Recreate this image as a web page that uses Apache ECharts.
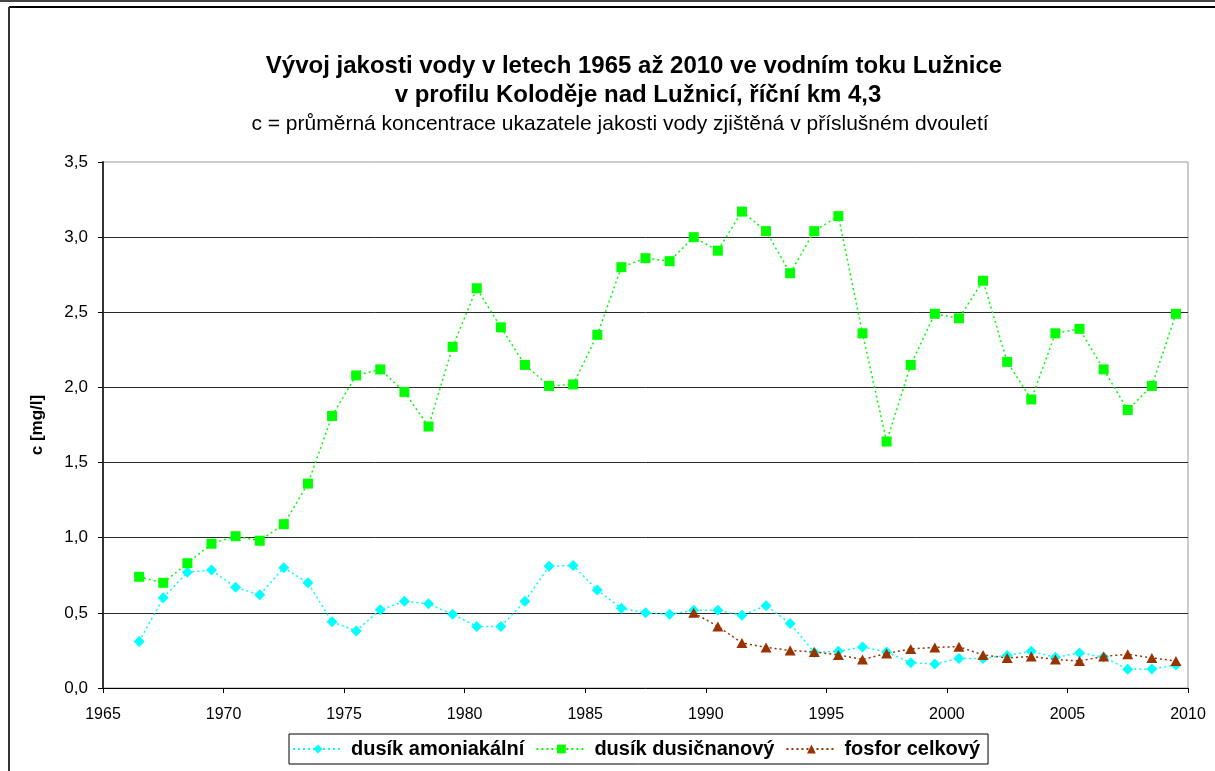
<!DOCTYPE html>
<html>
<head>
<meta charset="utf-8">
<title>Vývoj jakosti vody – Lužnice</title>
<script src="https://cdn.jsdelivr.net/npm/echarts@6/dist/echarts.min.js"></script>
<style>
  html, body { margin: 0; padding: 0; background: #fff; }
  #chart { width: 1215px; height: 771px; }
</style>
</head>
<body>
<div id="chart"></div>
<script>
// Midpoints of the two-year sampling periods
const periodMid = [
  1966.5, 1967.5, 1968.5, 1969.5, 1970.5, 1971.5, 1972.5, 1973.5, 1974.5, 1975.5,
  1976.5, 1977.5, 1978.5, 1979.5, 1980.5, 1981.5, 1982.5, 1983.5, 1984.5, 1985.5,
  1986.5, 1987.5, 1988.5, 1989.5, 1990.5, 1991.5, 1992.5, 1993.5, 1994.5, 1995.5,
  1996.5, 1997.5, 1998.5, 1999.5, 2000.5, 2001.5, 2002.5, 2003.5, 2004.5, 2005.5,
  2006.5, 2007.5, 2008.5, 2009.5
];

// Average concentrations [mg/l]
const dusikAmoniakalni = [
  0.31, 0.60, 0.77, 0.785, 0.67, 0.62, 0.80, 0.70, 0.44, 0.38,
  0.52, 0.577, 0.56, 0.49, 0.41, 0.41, 0.577, 0.81, 0.815, 0.652,
  0.53, 0.50, 0.49, 0.517, 0.517, 0.484, 0.548, 0.43, 0.237, 0.244,
  0.273, 0.24, 0.168, 0.16, 0.197, 0.197, 0.217, 0.244, 0.204, 0.233,
  0.206, 0.124, 0.126, 0.153
];

const dusikDusicnanovy = [
  0.74, 0.70, 0.83, 0.96, 1.01, 0.98, 1.09, 1.36, 1.81, 2.08,
  2.12, 1.97, 1.74, 2.27, 2.66, 2.40, 2.15, 2.01, 2.02, 2.35,
  2.80, 2.86, 2.84, 3.00, 2.91, 3.17, 3.04, 2.76, 3.04, 3.14,
  2.36, 1.64, 2.15, 2.49, 2.46, 2.71, 2.17, 1.92, 2.36, 2.39,
  2.12, 1.85, 2.01, 2.49
];

// Total phosphorus is measured from 1989 onwards (last 21 periods)
const fosforCelkovy = [
  0.50, 0.41, 0.30, 0.27, 0.25, 0.24, 0.22, 0.19, 0.23, 0.26,
  0.27, 0.275, 0.22, 0.20, 0.21, 0.19, 0.18, 0.21, 0.225, 0.20,
  0.18
];

const seriesNames = ['dusík amoniakální', 'dusík dusičnanový', 'fosfor celkový'];

const titleLines = [
  'Vývoj jakosti vody v letech 1965 až 2010 ve vodním toku Lužnice',
  'v profilu Koloděje nad Lužnicí, říční km 4,3'
];
const subtitle = 'c = průměrná koncentrace ukazatele jakosti vody zjištěná v příslušném dvouletí';
const yAxisTitle = 'c [mg/l]';

function pairs(xs, ys) {
  const offset = xs.length - ys.length;
  return ys.map((v, i) => [xs[i + offset], v]);
}

const FONT = '"Liberation Sans", Arial, sans-serif';

const chart = echarts.init(document.getElementById('chart'), null, { renderer: 'canvas' });

chart.setOption({
  backgroundColor: '#ffffff',
  animation: false,
  textStyle: { fontFamily: FONT, color: '#000' },
  graphic: [
    { type: 'rect', shape: { x: 0, y: 0, width: 1215, height: 2 }, style: { fill: '#444' }, silent: true },
    { type: 'line', shape: { x1: 9, y1: 7, x2: 1215, y2: 7 }, style: { stroke: '#000', lineWidth: 2 }, silent: true },
    { type: 'line', shape: { x1: 9, y1: 7, x2: 9, y2: 771 }, style: { stroke: '#333', lineWidth: 2 }, silent: true },
    {
      type: 'text', x: 634, y: 66,
      style: { text: titleLines[0], font: 'bold 24px ' + FONT, fill: '#000', textAlign: 'center', textVerticalAlign: 'middle' }
    },
    {
      type: 'text', x: 638, y: 95,
      style: { text: titleLines[1], font: 'bold 24px ' + FONT, fill: '#000', textAlign: 'center', textVerticalAlign: 'middle' }
    },
    {
      type: 'text', x: 620, y: 124,
      style: { text: subtitle, font: '21px ' + FONT, fill: '#000', textAlign: 'center', textVerticalAlign: 'middle' }
    }
  ],
  grid: {
    left: 103, right: 27, top: 162, bottom: 83,
    show: true, borderColor: '#999', borderWidth: 1, backgroundColor: 'transparent'
  },
  legend: {
    left: 289, top: 734,
    data: seriesNames,
    orient: 'horizontal',
    itemWidth: 50, itemHeight: 11, itemGap: 11,
    padding: [5, 8, 5, 3],
    borderColor: '#000', borderWidth: 1,
    textStyle: { fontFamily: FONT, fontWeight: 'bold', fontSize: 20, color: '#000', padding: [0, 0, 0, 3] }
  },
  xAxis: {
    type: 'value',
    min: 1965, max: 2010, interval: 5,
    axisLine: { show: true, lineStyle: { color: '#000', width: 1 } },
    axisTick: { show: true, inside: false, length: 5, lineStyle: { color: '#000' } },
    axisLabel: { fontFamily: FONT, fontSize: 16, color: '#000', margin: 19, formatter: v => String(v) },
    splitLine: { show: false }
  },
  yAxis: {
    type: 'value',
    min: 0, max: 3.5, interval: 0.5,
    name: yAxisTitle,
    nameLocation: 'middle',
    nameGap: 57,
    nameRotate: 90,
    nameTextStyle: { fontFamily: FONT, fontWeight: 'bold', fontSize: 17, color: '#000' },
    axisLine: { show: true, lineStyle: { color: '#333', width: 2 } },
    axisTick: { show: true, inside: false, length: 5, lineStyle: { color: '#000' } },
    axisLabel: {
      fontFamily: FONT, fontSize: 17, color: '#000', margin: 15,
      formatter: v => v.toFixed(1).replace('.', ',')
    },
    splitLine: { show: true, showMinLine: false, showMaxLine: false, lineStyle: { color: '#2b2b2b', width: 1 } }
  },
  series: [
    {
      name: seriesNames[0],
      type: 'line',
      data: pairs(periodMid, dusikAmoniakalni),
      symbol: 'diamond', symbolSize: [11, 11],
      itemStyle: { color: '#00ffff' },
      lineStyle: { color: '#00ffff', width: 1.5, type: [2, 3] },
      z: 3
    },
    {
      name: seriesNames[1],
      type: 'line',
      data: pairs(periodMid, dusikDusicnanovy),
      symbol: 'rect', symbolSize: [10, 10],
      itemStyle: { color: '#00ff00' },
      lineStyle: { color: '#00ff00', width: 1.5, type: [2, 3] },
      z: 3
    },
    {
      name: seriesNames[2],
      type: 'line',
      data: pairs(periodMid, fosforCelkovy),
      symbol: 'triangle', symbolSize: [11, 10],
      itemStyle: { color: '#993300' },
      lineStyle: { color: '#993300', width: 1.5, type: [2, 3] },
      z: 4
    }
  ]
});
</script>
</body>
</html>
